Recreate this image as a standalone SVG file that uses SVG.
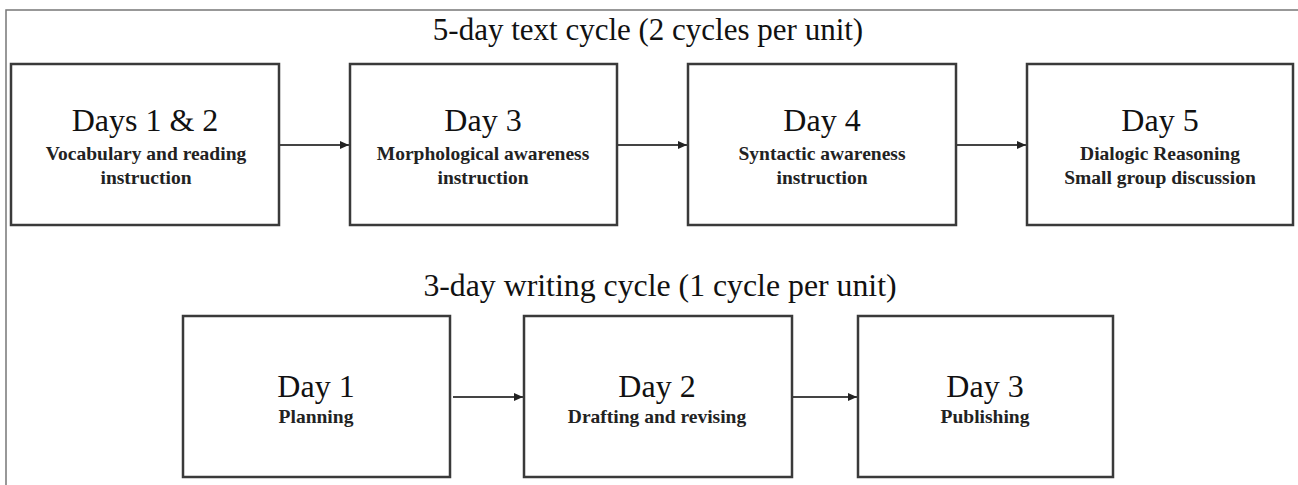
<svg xmlns="http://www.w3.org/2000/svg" width="1298" height="485" viewBox="0 0 1298 485">
<defs>
<marker id="ah" markerWidth="10" markerHeight="10" refX="9" refY="5" orient="auto" markerUnits="userSpaceOnUse">
<path d="M0,1 L9,5 L0,9 Z" fill="#222"/>
</marker>
<style>
.box{fill:#fff;stroke:#3a3a3a;stroke-width:2.5}
.frame{fill:none;stroke:#777;stroke-width:1.5}
.conn{stroke:#444;stroke-width:2;fill:none}
.head{font-family:"Liberation Serif","Times New Roman",serif;font-size:31px;fill:#111}
.ttl{font-family:"Liberation Serif","Times New Roman",serif;font-size:32px;fill:#111;text-anchor:middle}
.sub{font-family:"Liberation Serif","Times New Roman",serif;font-size:19.5px;font-weight:bold;fill:#222;text-anchor:middle}
</style>
</defs>
<rect width="1298" height="485" fill="#fff"/>
<path class="frame" d="M6,485 L6,10 L1298,10"/>
<text class="head" x="648" y="40" text-anchor="middle">5-day text cycle (2 cycles per unit)</text>
<text class="head" x="660" y="296" text-anchor="middle" style="font-size:31.8px">3-day writing cycle (1 cycle per unit)</text>
<g id="connectors">
<line class="conn" x1="280" y1="145" x2="349" y2="145" marker-end="url(#ah)"/>
<line class="conn" x1="618" y1="145" x2="687" y2="145" marker-end="url(#ah)"/>
<line class="conn" x1="957" y1="145" x2="1026" y2="145" marker-end="url(#ah)"/>
<line class="conn" x1="453" y1="397" x2="523" y2="397" marker-end="url(#ah)"/>
<line class="conn" x1="792" y1="397" x2="857" y2="397" marker-end="url(#ah)"/>
</g>
<g id="t1">
<rect class="box" x="11" y="64" width="268" height="161"/>
<text class="ttl" x="145" y="131">Days 1 &amp; 2</text>
<text class="sub" x="146" y="160">Vocabulary and reading</text>
<text class="sub" x="146" y="184">instruction</text>
</g>
<g id="t2">
<rect class="box" x="350" y="64" width="267" height="161"/>
<text class="ttl" x="483" y="131">Day 3</text>
<text class="sub" x="483" y="160">Morphological awareness</text>
<text class="sub" x="483" y="184">instruction</text>
</g>
<g id="t3">
<rect class="box" x="688" y="64" width="268" height="161"/>
<text class="ttl" x="822" y="131">Day 4</text>
<text class="sub" x="822" y="160">Syntactic awareness</text>
<text class="sub" x="822" y="184">instruction</text>
</g>
<g id="t4">
<rect class="box" x="1027" y="64" width="266" height="161"/>
<text class="ttl" x="1160" y="131">Day 5</text>
<text class="sub" x="1160" y="160">Dialogic Reasoning</text>
<text class="sub" x="1160" y="184">Small group discussion</text>
</g>
<g id="w1">
<rect class="box" x="183" y="316" width="267" height="161"/>
<text class="ttl" x="316" y="397">Day 1</text>
<text class="sub" x="316" y="423">Planning</text>
</g>
<g id="w2">
<rect class="box" x="524" y="316" width="268" height="161"/>
<text class="ttl" x="657" y="397">Day 2</text>
<text class="sub" x="657" y="423">Drafting and revising</text>
</g>
<g id="w3">
<rect class="box" x="858" y="316" width="255" height="161"/>
<text class="ttl" x="985" y="397">Day 3</text>
<text class="sub" x="985" y="423">Publishing</text>
</g>
</svg>
